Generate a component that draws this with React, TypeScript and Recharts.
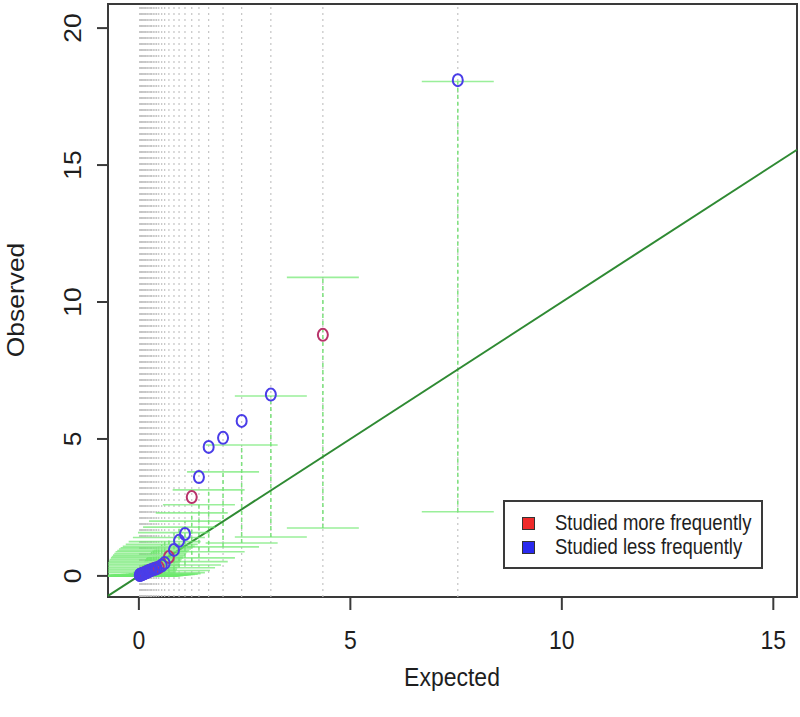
import { ReferenceArea, ReferenceLine, Scatter, ScatterChart, XAxis, YAxis } from "recharts"

// expected count, observed count, interval bounds and group per item
const expected = [
	0.02, 0.03, 0.05, 0.06, 0.08, 0.1, 0.12, 0.14, 0.16, 0.19, 0.21, 0.24, 0.27, 0.3, 0.34, 0.38,
	0.42, 0.47, 0.54, 0.61, 0.71, 0.83, 0.95, 1.09, 1.25, 1.42, 1.65, 1.99, 2.43, 3.12, 4.35, 7.54,
]
const observed = [
	0.03, 0.04, 0.05, 0.06, 0.07, 0.08, 0.09, 0.11, 0.12, 0.14, 0.16, 0.18, 0.2, 0.22, 0.24, 0.26,
	0.28, 0.31, 0.38, 0.47, 0.69, 0.95, 1.28, 1.53, 2.88, 3.61, 4.71, 5.04, 5.66, 6.62, 8.8, 18.1,
]
const ciLow = [
	0, 0, 0, 0.01, 0.01, 0.01, 0.01, 0.02, 0.02, 0.02, 0.02, 0.03, 0.03, 0.03, 0.04, 0.04,
	0.05, 0.05, 0.06, 0.08, 0.12, 0.2, 0.3, 0.4, 0.52, 0.66, 0.88, 1.06, 1.2, 1.42, 1.75, 2.34,
]
const ciHigh = [
	0.12, 0.18, 0.24, 0.3, 0.36, 0.42, 0.48, 0.54, 0.6, 0.66, 0.71, 0.76, 0.82, 0.88, 0.93, 0.98,
	1.03, 1.08, 1.15, 1.25, 1.4, 1.58, 1.78, 2.0, 2.3, 2.6, 3.14, 3.8, 4.78, 6.57, 10.9, 18.05,
]
const studiedMore = [
	false, false, false, true, false, false, false, true, false, false, false, true, false, false, true, false,
	false, true, false, false, true, false, false, false, true, false, false, false, false, false, true, false,
]

const xTicks = [0, 5, 10, 15]
const yTicks = [0, 5, 10, 15, 20]
const xDomain: [number, number] = [-0.73, 15.56]
const yDomain: [number, number] = [-0.77, 20.88]

const legendItems = [
	{ label: "Studied more frequently", color: "#ee2a2a" },
	{ label: "Studied less frequently", color: "#2a2aee" },
]

const FONT = "'Liberation Sans', Arial, Helvetica, sans-serif"
const STRETCH = 1.15
const MORE_COLOR = "#b8336a"
const LESS_COLOR = "#4a3de8"

const rows = expected.map((x, i) => ({
	x,
	y: observed[i],
	lo: ciLow[i],
	hi: ciHigh[i],
	more: studiedMore[i],
}))
const capRows = rows.flatMap((r) => [
	{ x: r.x, y: r.lo },
	{ x: r.x, y: r.hi },
])
const moreRows = rows.filter((r) => r.more)
const lessRows = rows.filter((r) => !r.more)

const XTick = ({ x, payload }: any) => (
	<text
		transform={`translate(${x},649) scale(1,${STRETCH})`}
		textAnchor='middle'
		fontSize={23}
		fontFamily={FONT}
		fill='#1e1e1e'
	>
		{payload.value}
	</text>
)

const YTick = ({ y, payload }: any) => (
	<text
		transform={`translate(81,${y}) rotate(-90) scale(${STRETCH},1)`}
		textAnchor='middle'
		fontSize={23}
		fontFamily={FONT}
		fill='#1e1e1e'
	>
		{payload.value}
	</text>
)

const ring = (color: string) => (props: any) => (
	<ellipse
		cx={props.cx}
		cy={props.cy}
		rx={5}
		ry={6}
		fill='none'
		stroke={color}
		strokeWidth={2}
	/>
)

const capShape = (props: any) => (
	<line
		x1={props.cx - 36}
		x2={props.cx + 36}
		y1={props.cy}
		y2={props.cy}
		stroke='#6fe86f'
		strokeOpacity={0.7}
		strokeWidth={1.6}
	/>
)

export default function App() {
	return (
		<div
			style={{
				position: "absolute",
				left: 0,
				top: 0,
				width: 800,
				height: 717,
				background: "#fff",
			}}
		>
			<ScatterChart
				width={800}
				height={717}
				margin={{ top: 4, right: 3, bottom: 0, left: 0 }}
			>
				<XAxis
					type='number'
					dataKey='x'
					domain={xDomain}
					ticks={xTicks}
					allowDataOverflow
					height={120}
					axisLine={false}
					tickSize={13}
					tickLine={{ stroke: "#3a3a3a", strokeWidth: 2 }}
					tick={<XTick />}
				/>
				<YAxis
					type='number'
					dataKey='y'
					domain={yDomain}
					ticks={yTicks}
					allowDataOverflow
					width={108}
					axisLine={false}
					tickSize={11}
					tickLine={{ stroke: "#3a3a3a", strokeWidth: 2 }}
					tick={<YTick />}
				/>

				{rows.map((r, i) => (
					<ReferenceLine
						key={`g${i}`}
						x={r.x}
						stroke='#c4c4c4'
						strokeWidth={1.2}
						strokeDasharray='2 4'
					/>
				))}
				{rows.map((r, i) => (
					<ReferenceLine
						key={`v${i}`}
						segment={[
							{ x: r.x, y: r.lo },
							{ x: r.x, y: r.hi },
						]}
						stroke='#7ee27e'
						strokeWidth={1.5}
						strokeDasharray='4 3'
					/>
				))}
				<Scatter data={capRows} shape={capShape} isAnimationActive={false} />
				<ReferenceLine
					segment={[
						{ x: xDomain[0], y: xDomain[0] },
						{ x: xDomain[1], y: xDomain[1] },
					]}
					stroke='#2f8a33'
					strokeWidth={2}
				/>
				<Scatter data={moreRows} shape={ring(MORE_COLOR)} isAnimationActive={false} />
				<Scatter data={lessRows} shape={ring(LESS_COLOR)} isAnimationActive={false} />
				<ReferenceArea
					x1={xDomain[0]}
					x2={xDomain[1]}
					y1={yDomain[0]}
					y2={yDomain[1]}
					fill='none'
					stroke='#3a3a3a'
					strokeWidth={2}
				/>

				<text
					transform={`translate(452,686) scale(1,${STRETCH})`}
					textAnchor='middle'
					fontSize={23}
					fontFamily={FONT}
					fill='#1e1e1e'
				>
					Expected
				</text>
				<text
					transform={`translate(24,300) rotate(-90) scale(${STRETCH},1)`}
					textAnchor='middle'
					fontSize={23}
					fontFamily={FONT}
					fill='#1e1e1e'
				>
					Observed
				</text>
			</ScatterChart>

			<div
				style={{
					position: "absolute",
					left: 503,
					top: 500,
					width: 260,
					height: 69,
					boxSizing: "border-box",
					border: "2px solid #3a3a3a",
					background: "#fff",
				}}
			>
				{legendItems.map((item, i) => (
					<div
						key={item.label}
						style={{
							position: "absolute",
							left: 17,
							top: 9 + i * 24,
							height: 24,
							display: "flex",
							alignItems: "center",
							whiteSpace: "nowrap",
						}}
					>
						<span
							style={{
								width: 11,
								height: 11,
								background: item.color,
								border: "1px solid #333",
								marginRight: 20,
							}}
						/>
						<span
							style={{
								fontFamily: FONT,
								fontSize: 18.5,
								color: "#1e1e1e",
								display: "inline-block",
								transform: `scaleY(${STRETCH})`,
							}}
						>
							{item.label}
						</span>
					</div>
				))}
			</div>
		</div>
	)
}
